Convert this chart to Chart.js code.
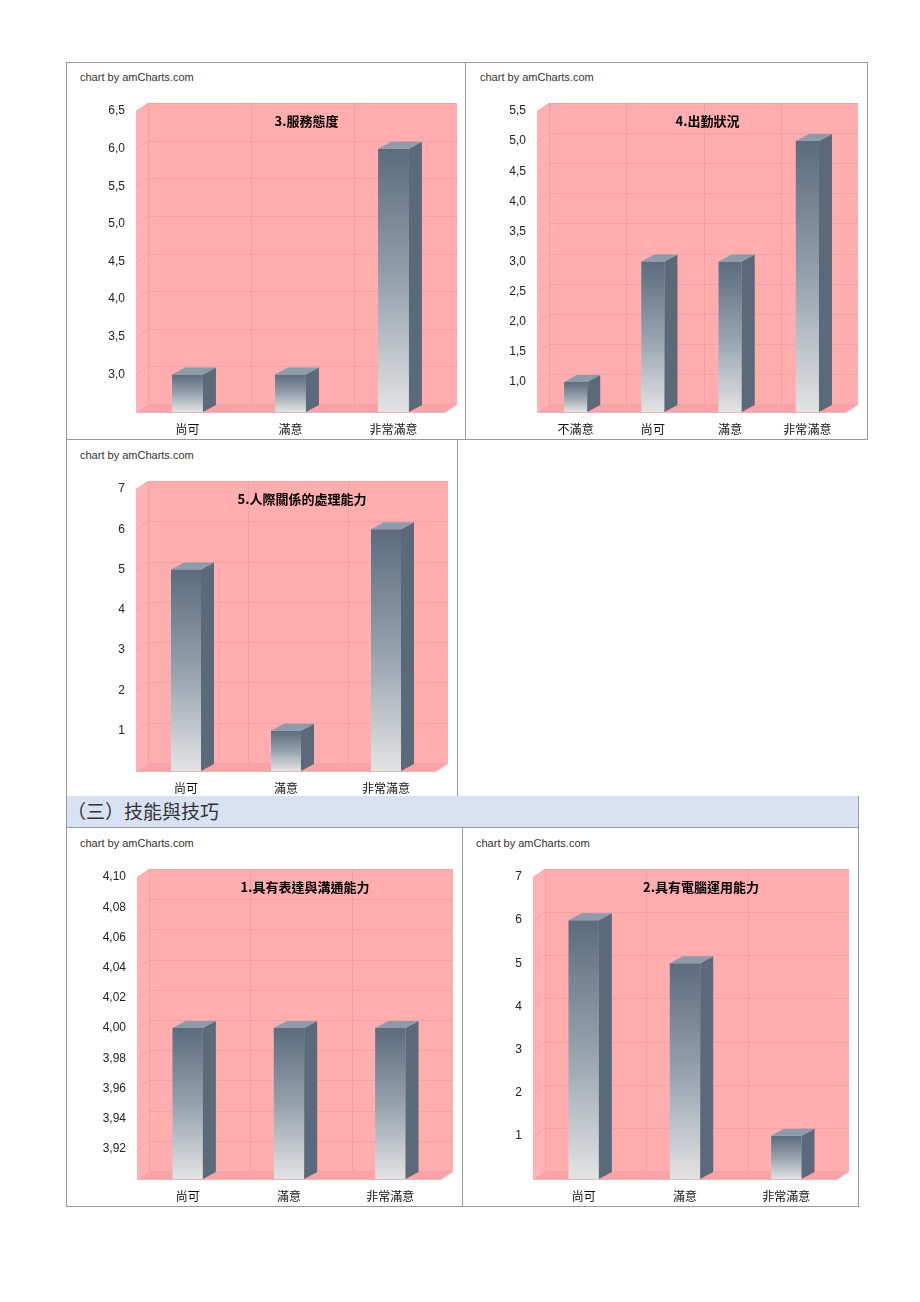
<!DOCTYPE html>
<html>
<head>
<meta charset="utf-8">
<script src="https://cdn.jsdelivr.net/npm/chart.js@4.4.1/dist/chart.umd.min.js"></script>
<style>
  body { margin: 0; background: #fff; width: 920px; height: 1302px; position: relative; overflow: hidden; }
  .box { position: absolute; box-sizing: border-box; border: 1px solid #9a9a9a; }
  .credit { position: absolute; font: 11px "Liberation Sans", Arial, sans-serif; color: #333; line-height: 13px; white-space: nowrap; }
  canvas { position: absolute; }
  .band { position: absolute; box-sizing: border-box; background: #d9e2f3; border: 1px solid #9a9a9a; border-top: none;
          font: 19px "Noto Sans CJK TC", sans-serif; color: #333; line-height: 30px; white-space: nowrap; }
</style>
</head>
<body>

<div class="box" style="left:66px;top:62px;width:400px;height:378px"></div>
<div class="box" style="left:465px;top:62px;width:403px;height:378px"></div>
<div class="box" style="left:66px;top:439px;width:392px;height:358px"></div>
<div class="band" style="left:66px;top:796px;width:793px;height:32px">（三）技能與技巧</div>
<div class="box" style="left:66px;top:827px;width:397px;height:380px"></div>
<div class="box" style="left:462px;top:827px;width:397px;height:380px"></div>

<div class="credit" style="left:80px;top:71px">chart by amCharts.com</div>
<div class="credit" style="left:480px;top:71px">chart by amCharts.com</div>
<div class="credit" style="left:80px;top:449px">chart by amCharts.com</div>
<div class="credit" style="left:80px;top:837px">chart by amCharts.com</div>
<div class="credit" style="left:476px;top:837px">chart by amCharts.com</div>

<canvas id="c3" width="400" height="377" style="left:66px;top:62px"></canvas>
<canvas id="c4" width="402" height="377" style="left:465px;top:62px"></canvas>
<canvas id="c5" width="391" height="357" style="left:66px;top:439px"></canvas>
<canvas id="s1" width="396" height="379" style="left:66px;top:827px"></canvas>
<canvas id="s2" width="396" height="379" style="left:462px;top:827px"></canvas>

<script>
// 3.服務態度
const serviceCats = ['尚可', '滿意', '非常滿意'];
const serviceVals = [3, 3, 6];
const serviceTicks = [2.5, 3.0, 3.5, 4.0, 4.5, 5.0, 5.5, 6.0, 6.5];

// 4.出勤狀況
const attendCats = ['不滿意', '尚可', '滿意', '非常滿意'];
const attendVals = [1, 3, 3, 5];
const attendTicks = [0.5, 1.0, 1.5, 2.0, 2.5, 3.0, 3.5, 4.0, 4.5, 5.0, 5.5];

// 5.人際關係的處理能力
const relationCats = ['尚可', '滿意', '非常滿意'];
const relationVals = [5, 1, 6];
const relationTicks = [0, 1, 2, 3, 4, 5, 6, 7];

// (三) 1.具有表達與溝通能力
const commCats = ['尚可', '滿意', '非常滿意'];
const commVals = [4, 4, 4];
const commTicks = [3.90, 3.92, 3.94, 3.96, 3.98, 4.00, 4.02, 4.04, 4.06, 4.08, 4.10];

// (三) 2.具有電腦運用能力
const pcCats = ['尚可', '滿意', '非常滿意'];
const pcVals = [6, 5, 1];
const pcTicks = [0, 1, 2, 3, 4, 5, 6, 7];

// 3D 效果 (amCharts 風格)
const WALL_DX = 12, WALL_DY = 8;
const BAR_DX = 13, BAR_DY = 7;

const box3d = {
    id: 'box3d',
    beforeDatasetsDraw(chart, args, opts) {
        const { ctx, chartArea: a, scales: { x, y } } = chart;
        ctx.save();

        // 左牆
        ctx.fillStyle = '#ffb1b3';
        ctx.beginPath();
        ctx.moveTo(a.left, a.top);
        ctx.lineTo(a.left + WALL_DX, a.top - WALL_DY);
        ctx.lineTo(a.left + WALL_DX, a.bottom - WALL_DY);
        ctx.lineTo(a.left, a.bottom);
        ctx.closePath();
        ctx.fill();

        // 背牆
        ctx.fillStyle = '#ffadaf';
        ctx.fillRect(a.left + WALL_DX, a.top - WALL_DY, a.right - a.left, a.bottom - a.top);

        // 地板
        ctx.fillStyle = '#f8a3a7';
        ctx.beginPath();
        ctx.moveTo(a.left, a.bottom);
        ctx.lineTo(a.left + WALL_DX, a.bottom - WALL_DY);
        ctx.lineTo(a.right + WALL_DX, a.bottom - WALL_DY);
        ctx.lineTo(a.right, a.bottom);
        ctx.closePath();
        ctx.fill();

        // 格線
        ctx.strokeStyle = 'rgba(205,120,130,0.22)';
        ctx.lineWidth = 1;
        y.ticks.forEach(t => {
            if (t.value === y.min) return;
            const py = Math.round(y.getPixelForValue(t.value)) + 0.5;
            ctx.beginPath();
            ctx.moveTo(a.left, py);
            ctx.lineTo(a.left + WALL_DX, py - WALL_DY);
            ctx.lineTo(a.right + WALL_DX, py - WALL_DY);
            ctx.stroke();
        });
        const n = x.ticks.length;
        const half = (x.getPixelForTick(1) - x.getPixelForTick(0)) / 2;
        for (let i = 0; i < n; i++) {
            const px = Math.round(x.getPixelForTick(i) - half + WALL_DX) + 0.5;
            ctx.beginPath();
            ctx.moveTo(px, a.top - WALL_DY);
            ctx.lineTo(px, a.bottom - WALL_DY);
            ctx.stroke();
        }

        // 地板前緣
        ctx.strokeStyle = 'rgba(215,110,120,0.5)';
        ctx.beginPath();
        ctx.moveTo(a.left, a.bottom + 0.5);
        ctx.lineTo(a.right, a.bottom + 0.5);
        ctx.lineTo(a.right + WALL_DX, a.bottom - WALL_DY + 0.5);
        ctx.stroke();

        // 標題
        ctx.fillStyle = '#000';
        ctx.font = 'bold 13px "Noto Sans CJK TC", sans-serif';
        ctx.textAlign = 'center';
        ctx.textBaseline = 'middle';
        ctx.fillText(opts.title, (a.left + a.right) / 2 + 16, a.top + 10);
        ctx.restore();
    },
    afterDatasetsDraw(chart) {
        const ctx = chart.ctx;
        const floor = chart.chartArea.bottom;
        const meta = chart.getDatasetMeta(0);
        ctx.save();
        meta.data.forEach(bar => {
            const p = bar.getProps(['x', 'y', 'base', 'width'], true);
            const y = p.y, base = Math.min(p.base, floor);
            const l = p.x - p.width / 2, r = p.x + p.width / 2;
            // 側面
            ctx.fillStyle = '#5b6a7a';
            ctx.beginPath();
            ctx.moveTo(r, y);
            ctx.lineTo(r + BAR_DX, y - BAR_DY);
            ctx.lineTo(r + BAR_DX, base - BAR_DY);
            ctx.lineTo(r, base);
            ctx.closePath();
            ctx.fill();
            // 頂面
            ctx.fillStyle = '#8d9bab';
            ctx.beginPath();
            ctx.moveTo(l, y);
            ctx.lineTo(l + BAR_DX, y - BAR_DY);
            ctx.lineTo(r + BAR_DX, y - BAR_DY);
            ctx.lineTo(r, y);
            ctx.closePath();
            ctx.fill();
        });
        ctx.restore();
    }
};

function barGradient(c) {
    const chart = c.chart;
    if (!chart.chartArea || c.type !== 'data') return '#7d8b9a';
    const top = chart.scales.y.getPixelForValue(c.raw);
    const g = chart.ctx.createLinearGradient(0, top, 0, chart.chartArea.bottom);
    g.addColorStop(0, '#5c6c7d');
    g.addColorStop(0.5, '#95a1ad');
    g.addColorStop(1, '#e3e3e3');
    return g;
}

function makeChart(id, cats, vals, tickVals, decimals, title, frame) {
    const canvas = document.getElementById(id);
    const W = canvas.width, H = canvas.height;
    const yMin = tickVals[0], yMax = tickVals[tickVals.length - 1];
    return new Chart(canvas, {
        type: 'bar',
        data: {
            labels: cats,
            datasets: [{
                data: vals,
                backgroundColor: barGradient,
                borderWidth: 0,
                barPercentage: 0.3,
                categoryPercentage: 1
            }]
        },
        options: {
            responsive: false,
            animation: false,
            layout: { padding: { top: frame.T, right: W - frame.R, bottom: 0, left: 0 } },
            scales: {
                x: {
                    grid: { display: false, drawTicks: false },
                    border: { display: false },
                    ticks: { padding: 10, color: '#111', font: { family: '"Noto Sans CJK TC", sans-serif', size: 12 }, maxRotation: 0 },
                    afterFit: s => { s.height = H - frame.B; }
                },
                y: {
                    min: yMin,
                    max: yMax,
                    grid: { display: false, drawTicks: false },
                    border: { display: false },
                    afterBuildTicks: s => { s.ticks = tickVals.map(v => ({ value: v })); },
                    ticks: {
                        padding: 11,
                        color: '#222',
                        font: { family: '"Liberation Sans", Arial, sans-serif', size: 12 },
                        callback: v => v === yMin ? '' : v.toFixed(decimals).replace('.', ',')
                    },
                    afterFit: s => { s.width = frame.L; }
                }
            },
            plugins: {
                legend: { display: false },
                tooltip: { enabled: false },
                box3d: { title: title }
            }
        },
        plugins: [box3d]
    });
}

makeChart('c3', serviceCats, serviceVals, serviceTicks, 1, '3.服務態度', { L: 70, T: 49, R: 379, B: 350 });
makeChart('c4', attendCats, attendVals, attendTicks, 1, '4.出勤狀況', { L: 72, T: 49, R: 381, B: 350 });
makeChart('c5', relationCats, relationVals, relationTicks, 0, '5.人際關係的處理能力', { L: 70, T: 50, R: 370, B: 332 });
makeChart('s1', commCats, commVals, commTicks, 2, '1.具有表達與溝通能力', { L: 71, T: 50, R: 375, B: 352 });
makeChart('s2', pcCats, pcVals, pcTicks, 0, '2.具有電腦運用能力', { L: 71, T: 50, R: 375, B: 352 });
</script>
</body>
</html>
